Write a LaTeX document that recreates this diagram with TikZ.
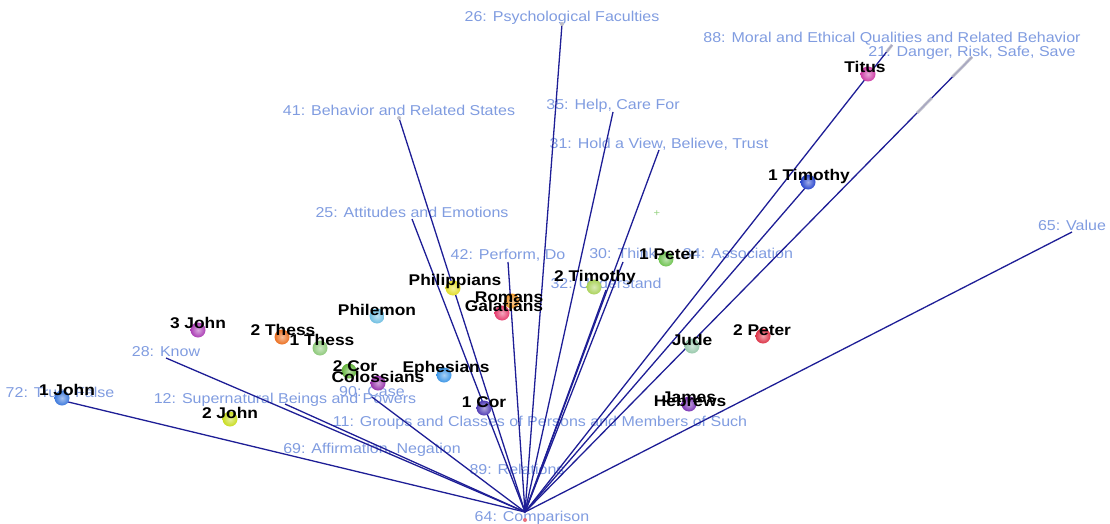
\documentclass[tikz,border=0pt]{standalone}
\usepackage{fontspec}
\newfontfamily\plotfont[FakeStretch=1.12]{Liberation Sans}
\usetikzlibrary{positioning,calc}

\definecolor{axisblue}{RGB}{30,30,150}
\definecolor{labelblue}{RGB}{128,156,224}
\definecolor{tipgray}{RGB}{190,190,200}
\definecolor{plusgreen}{RGB}{150,210,130}
\definecolor{cTitus}{RGB}{205,60,165}
\definecolor{cTimA}{RGB}{40,70,205}
\definecolor{cPetA}{RGB}{110,195,80}
\definecolor{cTimB}{RGB}{170,210,90}
\definecolor{cPhil}{RGB}{225,220,40}
\definecolor{cRom}{RGB}{240,150,40}
\definecolor{cGal}{RGB}{230,60,110}
\definecolor{cPhm}{RGB}{110,190,225}
\definecolor{cJohC}{RGB}{170,60,180}
\definecolor{cThB}{RGB}{235,110,30}
\definecolor{cThA}{RGB}{140,200,120}
\definecolor{cCorB}{RGB}{100,180,60}
\definecolor{cCol}{RGB}{150,50,170}
\definecolor{cEph}{RGB}{60,150,230}
\definecolor{cCorA}{RGB}{80,60,180}
\definecolor{cJohB}{RGB}{200,220,30}
\definecolor{cJohA}{RGB}{60,120,220}
\definecolor{cJude}{RGB}{150,200,170}
\definecolor{cPetB}{RGB}{220,50,70}
\definecolor{cHeb}{RGB}{120,50,180}

\tikzset{
  axisline/.style={draw=axisblue, line width=1.3pt},
  tipmark/.style={draw=tipgray, line width=3pt, opacity=0.85},
  varlabel/.style={text=labelblue, inner sep=0pt, text depth=0pt,
    font=\plotfont\fontsize{14.3}{15}\selectfont},
  doclabel/.style={inner sep=0pt, font=\plotfont\bfseries\fontsize{15.5}{16}\selectfont},
  docball/.style={circle, inner sep=0pt, minimum size=15pt, shade, shading=radial,
    inner color=#1!45!white, outer color=#1}
}

\begin{document}
\begin{tikzpicture}[x=1pt,y=-1pt]
    \useasboundingbox (0,0) rectangle (1110,524);

    % origin and arrow tips
    \coordinate (o) at (525,512);
    \coordinate (v26) at (562,24);
    \coordinate (v88) at (892,45);
    \coordinate (v21) at (972,57);
    \coordinate (v41) at (399,118);
    \coordinate (v35) at (613,112);
    \coordinate (v31) at (659,150);
    \coordinate (v25) at (412,219);
    \coordinate (v42) at (508,262);
    \coordinate (v30) at (623,262);
    \coordinate (v32) at (606,290);
    \coordinate (v65) at (1072,232);
    \coordinate (v28) at (166,358);
    \coordinate (v72) at (60,400);
    \coordinate (v12) at (285,404);
    \coordinate (v90) at (372,397);
    \coordinate (vx) at (806,187);

    % variable labels
    \node (l26) [varlabel, above=2pt of v26] {26: Psychological Faculties};
    \node (l88) [varlabel, above=2pt of v88] {88: Moral and Ethical Qualities and Related Behavior};
    \node (l21) [varlabel, above=0.5pt of v21] {21: Danger, Risk, Safe, Save};
    \node (l41) [varlabel, above=2pt of v41] {41: Behavior and Related States};
    \node (l35) [varlabel, above=2.5pt of v35] {35: Help, Care For};
    \node (l31) [varlabel, above=1pt of v31] {31: Hold a View, Believe, Trust};
    \node (l25) [varlabel, above=1pt of v25] {25: Attitudes and Emotions};
    \node (l42) [varlabel, above=2pt of v42] {42: Perform, Do};
    \node (l30) [varlabel, above=3pt of v30] {30: Think};
    \node (l32) [varlabel, above=1pt of v32] {32: Understand};
    \node (l65) [varlabel, above=1pt of v65] {65: Value};
    \node (l28) [varlabel, above=1pt of v28] {28: Know};
    \node (l72) [varlabel, above=2pt of v72] {72: True, False};
    \node (l12) [varlabel, above=0pt of v12] {12: Supernatural Beings and Powers};
    \node (l90) [varlabel, above=0pt of v90] {90: Case};
    \node (l34) [varlabel, anchor=base] at (738,258) {34: Association};
    \node (l11) [varlabel, anchor=base] at (540,426) {11: Groups and Classes of Persons and Members of Such};
    \node (l69) [varlabel, anchor=base] at (372,453) {69: Affirmation, Negation};
    \node (l89) [varlabel, anchor=base] at (517,474) {89: Relations};
    \node (l64) [varlabel, anchor=base] at (532,521) {64: Comparison};

    % arrows from the origin
    \foreach \v in {v26,v88,v21,v41,v35,v31,v25,v42,v30,v32,v65,v28,v72,v12,v90,vx}
        \draw[axisline] (o) -- (\v);

    % grey tips
    \draw[tipmark] ($(o)!0.956!(v21)$) -- (v21);
    \draw[tipmark] ($(o)!0.877!(v21)$) -- ($(o)!0.91!(v21)$);
    \draw[tipmark] ($(o)!0.985!(v88)$) -- (v88);
    \fill[tipgray] (v26) circle (2pt);
    \fill[tipgray] (v41) circle (2pt);
    \node (plus) [text=plusgreen, inner sep=0pt, font=\plotfont\fontsize{10}{10}\selectfont] at (657,214) {+};
    \fill[cPetB!70!white] (525,520) circle (2pt);

    % books
    \node (titus) [docball=cTitus] at (868,74) {};
    \node (timA) [docball=cTimA] at (808,182) {};
    \node (petA) [docball=cPetA] at (666,259) {};
    \node (timB) [docball=cTimB] at (594,287) {};
    \node (phil) [docball=cPhil] at (453,288) {};
    \node (rom) [docball=cRom] at (512,301) {};
    \node (gal) [docball=cGal] at (502,313) {};
    \node (phm) [docball=cPhm] at (377,316) {};
    \node (johC) [docball=cJohC] at (198,330) {};
    \node (thB) [docball=cThB] at (282,337) {};
    \node (thA) [docball=cThA] at (320,348) {};
    \node (corB) [docball=cCorB] at (349,371) {};
    \node (col) [docball=cCol] at (378,383) {};
    \node (eph) [docball=cEph] at (444,375) {};
    \node (corA) [docball=cCorA] at (484,408) {};
    \node (johB) [docball=cJohB] at (230,419) {};
    \node (johA) [docball=cJohA] at (62,398) {};
    \node (jude) [docball=cJude] at (692,346) {};
    \node (petB) [docball=cPetB] at (763,336) {};
    \node (heb) [docball=cHeb] at (689,404) {};

    \node (titus-l) [doclabel] at (865,67) {Titus};
    \node (timA-l) [doclabel] at (809,176) {1 Timothy};
    \node (petA-l) [doclabel] at (668,254) {1 Peter};
    \node (timB-l) [doclabel] at (595,277) {2 Timothy};
    \node (phil-l) [doclabel] at (455,281) {Philippians};
    \node (rom-l) [doclabel] at (509,297) {Romans};
    \node (gal-l) [doclabel] at (504,306) {Galatians};
    \node (phm-l) [doclabel] at (377,310) {Philemon};
    \node (johC-l) [doclabel] at (198,323) {3 John};
    \node (thB-l) [doclabel] at (283,330) {2 Thess};
    \node (thA-l) [doclabel] at (322,340) {1 Thess};
    \node (corB-l) [doclabel] at (355,366) {2 Cor};
    \node (col-l) [doclabel] at (378,377) {Colossians};
    \node (eph-l) [doclabel] at (446,368) {Ephesians};
    \node (corA-l) [doclabel] at (484,402) {1 Cor};
    \node (johB-l) [doclabel] at (230,413) {2 John};
    \node (johA-l) [doclabel] at (67,390) {1 John};
    \node (jude-l) [doclabel] at (692,340) {Jude};
    \node (petB-l) [doclabel] at (762,330) {2 Peter};
    \node (jas-l) [doclabel] at (689,397) {James};
    \node (heb-l) [doclabel] at (690,401) {Hebrews};
\end{tikzpicture}
\end{document}
